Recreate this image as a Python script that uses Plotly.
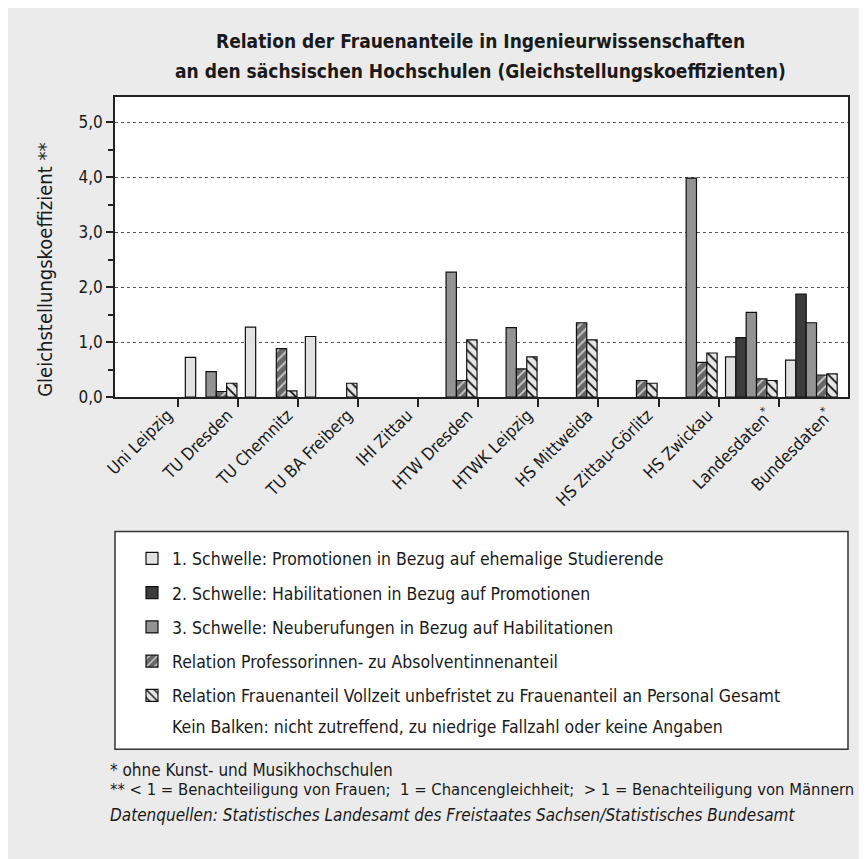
import plotly.graph_objects as go

categories = ["Uni Leipzig", "TU Dresden", "TU Chemnitz", "TU BA Freiberg", "IHI Zittau",
              "HTW Dresden", "HTWK Leipzig", "HS Mittweida", "HS Zittau-Görlitz",
              "HS Zwickau", "Landesdaten<sup>*</sup>", "Bundesdaten<sup>*</sup>"]

schwelle1 = [None, 0.72, 1.27, 1.10, None, None, None, None, None, None, 0.73, 0.67]
schwelle2 = [None, None, None, None, None, None, None, None, None, None, 1.08, 1.87]
schwelle3 = [None, 0.46, None, None, None, 2.27, 1.26, None, None, 3.98, 1.54, 1.35]
prof_absolv = [None, 0.10, 0.88, None, None, 0.30, 0.51, 1.35, 0.30, 0.63, 0.33, 0.40]
vollzeit = [None, 0.25, 0.11, 0.25, None, 1.04, 0.73, 1.04, 0.25, 0.80, 0.30, 0.42]

series_names = [
    "1. Schwelle: Promotionen in Bezug auf ehemalige Studierende",
    "2. Schwelle: Habilitationen in Bezug auf Promotionen",
    "3. Schwelle: Neuberufungen in Bezug auf Habilitationen",
    "Relation Professorinnen- zu Absolventinnenanteil",
    "Relation Frauenanteil Vollzeit unbefristet zu Frauenanteil an Personal Gesamt",
]
series_values = [schwelle1, schwelle2, schwelle3, prof_absolv, vollzeit]

y_ticks = [0, 1, 2, 3, 4, 5]

FONT = "DejaVu Sans Condensed, Open Sans, sans-serif"
BG = "#ebebeb"
INK = "#1a1a1a"

styles = [
    dict(color="#e2e2e2"),
    dict(color="#3c3c3c"),
    dict(color="#939393"),
    dict(color="#676767", pattern=dict(shape="/", bgcolor="#676767", fgcolor="#cfcfcf",
                                       size=7, solidity=0.25, fillmode="replace")),
    dict(color="#e6e6e6", pattern=dict(shape="\\", bgcolor="#e6e6e6", fgcolor="#111111",
                                       size=7, solidity=0.25, fillmode="replace")),
]

# page offset (body margin) and figure size
OFF = 8
FW, FH = 859, 851
# plot area in screen pixels
SL, SR, ST, SB = 115, 848, 97, 397.3
L, R, T, B = SL - OFF, SR - OFF, ST - OFF, SB - OFF
W, H = R - L, B - T


def px(xs):
    return (xs - OFF - L) / W


def py(ys):
    return (B - (ys - OFF)) / H


idx = list(range(len(categories)))
slot = 0.172
start = -0.5 + 7 / 60

fig = go.Figure()
for k, (name, vals) in enumerate(zip(series_names, series_values)):
    fig.add_trace(go.Bar(
        x=idx, y=vals, name=name,
        width=slot, offset=start + k * slot,
        marker=dict(**styles[k], line=dict(color="#111111", width=1.2)),
        legendgroup=str(k),
    ))

fig.update_layout(
    width=FW, height=FH,
    barmode="overlay",
    separators=",.",
    paper_bgcolor=BG, plot_bgcolor="white",
    margin=dict(l=L, r=FW - R, t=T, b=FH - B, pad=0),
    font=dict(family=FONT, size=17, color=INK),
    xaxis=dict(
        range=[-0.555, 11.657],
        tickmode="array", tickvals=[i + 0.32 for i in idx], ticktext=categories,
        tickangle=-45, ticks="", showgrid=False, zeroline=False,
        showline=True, linecolor="#222222", linewidth=1.5, mirror=True,
        tickfont=dict(size=17),
        minor=dict(tickmode="array", tickvals=[i + 0.5 for i in idx[:-1]],
                   ticks="outside", ticklen=8, tickwidth=1.5, tickcolor="#222222",
                   showgrid=False),
    ),
    yaxis=dict(
        range=[0, 5.455],
        tickmode="array", tickvals=y_ticks, tickformat=".1f",
        ticks="outside", ticklen=7, tickwidth=1.5, tickcolor="#222222",
        showgrid=True, gridcolor="#555555", griddash="dot", gridwidth=1,
        zeroline=False, showline=True, linecolor="#222222", linewidth=1.5, mirror=True,
        tickfont=dict(size=17),
        minor=dict(dtick=0.5, tick0=0, ticks="outside", ticklen=5, tickwidth=1.5,
                   tickcolor="#222222", showgrid=False),
    ),
    legend=dict(
        x=px(132), xanchor="left", y=py(541), yanchor="top",
        bgcolor="rgba(0,0,0,0)", borderwidth=0,
        font=dict(size=17.5), tracegroupgap=8.5, traceorder="grouped",
    ),
)

# y-axis title
fig.add_annotation(xref="paper", yref="paper", x=px(45), y=py(270),
                   xanchor="center", yanchor="middle", showarrow=False, textangle=-90,
                   text="Gleichstellungskoeffizient **", font=dict(size=20))

# title lines
for text, ys in [("Relation der Frauenanteile in Ingenieurwissenschaften", 41),
                 ("an den sächsischen Hochschulen (Gleichstellungskoeffizienten)", 71)]:
    fig.add_annotation(xref="paper", yref="paper", x=px(480), y=py(ys),
                       xanchor="center", yanchor="middle", showarrow=False,
                       text="<b>" + text + "</b>", font=dict(size=19, color=INK))

# legend frame
fig.add_shape(type="rect", xref="paper", yref="paper",
              x0=px(115), x1=px(848), y0=py(750), y1=py(532),
              line=dict(color="#333333", width=1.5), fillcolor="white", layer="below")

fig.add_annotation(xref="paper", yref="paper", x=px(170), y=py(728),
                   xanchor="left", yanchor="middle", showarrow=False,
                   text="Kein Balken: nicht zutreffend, zu niedrige Fallzahl oder keine Angaben",
                   font=dict(size=17.5))

notes = [
    ("* ohne Kunst- und Musikhochschulen", 771, 17),
    ("** &lt; 1 = Benachteiligung von Frauen;\u00a0 1 = Chancengleichheit;\u00a0 &gt; 1 = Benachteiligung von Männern", 790, 16.5),
    ("<i>Datenquellen: Statistisches Landesamt des Freistaates Sachsen/Statistisches Bundesamt</i>", 816, 17),
]
for text, ys, fs in notes:
    fig.add_annotation(xref="paper", yref="paper", x=px(108), y=py(ys),
                       xanchor="left", yanchor="middle", showarrow=False,
                       text=text, font=dict(size=fs))

fig.write_html("out.html")
